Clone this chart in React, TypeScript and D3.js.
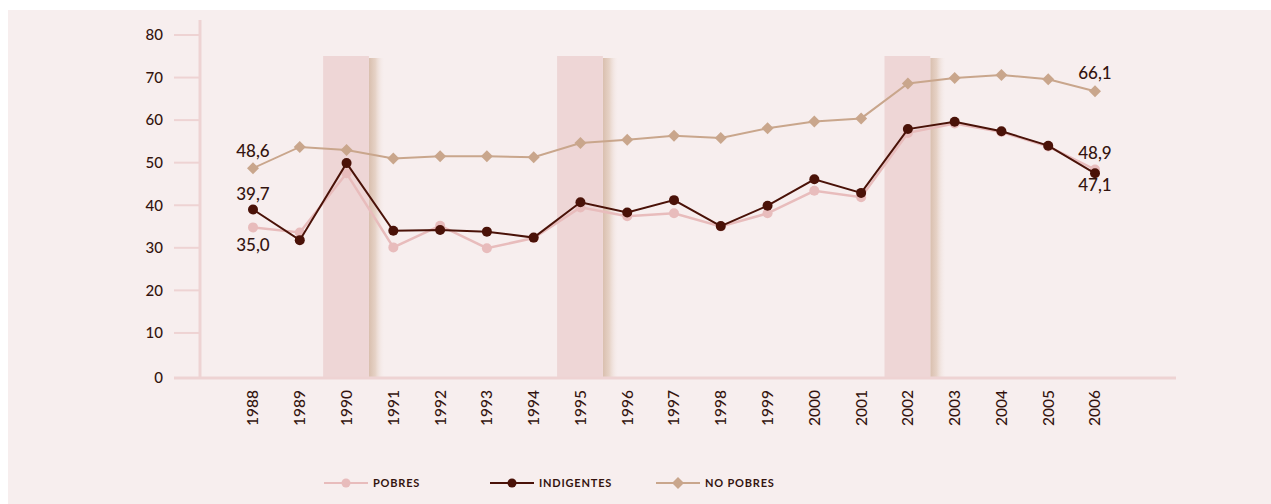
import * as d3 from "d3";

// Serie 1988-2006 (porcentajes)
const years = [1988, 1989, 1990, 1991, 1992, 1993, 1994, 1995, 1996, 1997, 1998, 1999, 2000, 2001, 2002, 2003, 2004, 2005, 2006];
const pobres = [34.8, 33.6, 47.5, 30.1, 35.2, 29.9, 32.3, 39.5, 37.4, 38.1, 35.0, 38.1, 43.4, 41.9, 57.0, 59.2, 57.2, 53.8, 48.4];
const indigentes = [39.0, 31.8, 49.9, 34.0, 34.2, 33.8, 32.4, 40.7, 38.3, 41.2, 35.1, 39.9, 46.1, 42.9, 57.9, 59.6, 57.4, 54.0, 47.5];
const noPobres = [48.7, 53.7, 53.0, 51.0, 51.5, 51.5, 51.3, 54.6, 55.4, 56.3, 55.8, 58.1, 59.7, 60.4, 68.6, 69.9, 70.6, 69.6, 66.8];
const bandYears = [1990, 1995, 2002];
const yTicks = [0, 10, 20, 30, 40, 50, 60, 70, 80];

const legendItems = [
  { label: "POBRES", color: "#e8bcbc", shape: "circle" },
  { label: "INDIGENTES", color: "#4a1208", shape: "circle" },
  { label: "NO POBRES", color: "#c9a68c", shape: "diamond" },
];

const W = 1271;
const H = 504;
const textColor = "#34140f";
const axisColor = "#eed3d3";
const bg = "#f7eeee";

export default function App() {
  const x = d3.scaleLinear().domain([1988, 2006]).range([253, 1095]);
  const y = d3.scaleLinear().domain([0, 80]).range([375.5, 35]);
  const step = x(1989) - x(1988);

  const line = d3
    .line<number>()
    .x((_, i) => x(years[i]))
    .y((d) => y(d));

  const diamond = (cx: number, cy: number, r: number) =>
    `M${cx},${cy - r}L${cx + r},${cy}L${cx},${cy + r}L${cx - r},${cy}Z`;

  const font = "Lato, 'DejaVu Sans', sans-serif";

  return (
    <svg
      width={W}
      height={H}
      style={{ position: "absolute", left: 0, top: 0, display: "block" }}
      fontFamily={font}
    >
      <defs>
        <linearGradient id="shadow" x1="0" x2="1" y1="0" y2="0">
          <stop offset="0%" stopColor="#d9bfae" />
          <stop offset="40%" stopColor="#e6d2c6" />
          <stop offset="100%" stopColor={bg} stopOpacity={0} />
        </linearGradient>
      </defs>
      <rect x={0} y={0} width={W} height={H} fill="#ffffff" />
      <rect x={8} y={10} width={W - 8} height={H - 10} fill={bg} />

      {/* bandas */}
      {bandYears.map((b) => (
        <g key={b}>
          <rect
            x={x(b) + step / 2 - 1}
            y={58}
            width={16}
            height={378 - 58}
            fill="url(#shadow)"
          />
          <rect
            x={x(b) - step / 2}
            y={56}
            width={step - 1}
            height={378 - 56}
            fill="#eed6d6"
          />
        </g>
      ))}

      {/* eje y */}
      <line x1={200} x2={200} y1={20} y2={379} stroke={axisColor} strokeWidth={3} />
      {yTicks.map((t) => (
        <g key={t}>
          <line
            x1={174}
            x2={200}
            y1={t === 0 ? 378 : y(t)}
            y2={t === 0 ? 378 : y(t)}
            stroke={axisColor}
            strokeWidth={2}
          />
          <text
            x={163}
            y={t === 0 ? 378 : y(t)}
            dy="0.35em"
            textAnchor="end"
            fontSize={15}
            fontWeight={500}
            fill={textColor}
          >
            {t}
          </text>
        </g>
      ))}

      {/* eje x */}
      <line x1={174} x2={1176} y1={378} y2={378} stroke={axisColor} strokeWidth={3} />
      {years.map((yr) => (
        <text
          key={yr}
          transform={`translate(${x(yr)},390) rotate(-90)`}
          textAnchor="end"
          dy="0.35em"
          fontSize={15.5}
          fontWeight={500}
          fill={textColor}
        >
          {yr}
        </text>
      ))}

      {/* series */}
      <path d={line(noPobres) ?? ""} fill="none" stroke="#c9a68c" strokeWidth={2} />
      {noPobres.map((v, i) => (
        <path key={i} d={diamond(x(years[i]), y(v), 6)} fill="#c9a68c" />
      ))}

      <path d={line(pobres) ?? ""} fill="none" stroke="#e8bcbc" strokeWidth={2.5} />
      {pobres.map((v, i) => (
        <circle key={i} cx={x(years[i])} cy={y(v)} r={5} fill="#e8bcbc" />
      ))}

      <path d={line(indigentes) ?? ""} fill="none" stroke="#4a1208" strokeWidth={2} />
      {indigentes.map((v, i) => (
        <circle key={i} cx={x(years[i])} cy={y(v)} r={5} fill="#4a1208" />
      ))}

      {/* etiquetas de valores */}
      <g fontSize={17} fill={textColor} textAnchor="middle" fontWeight={500}>
        <text x={x(1988)} y={157}>48,6</text>
        <text x={x(1988)} y={200}>39,7</text>
        <text x={x(1988)} y={251}>35,0</text>
        <text x={x(2006)} y={79}>66,1</text>
        <text x={x(2006)} y={159}>48,9</text>
        <text x={x(2006)} y={191}>47,1</text>
      </g>

      {/* leyenda */}
      {legendItems.map((it, i) => {
        const lx = 324 + i * 166;
        const cy = 483;
        return (
          <g key={it.label}>
            <line x1={lx} x2={lx + 44} y1={cy} y2={cy} stroke={it.color} strokeWidth={2} />
            {it.shape === "circle" ? (
              <circle cx={lx + 22} cy={cy} r={4.5} fill={it.color} />
            ) : (
              <path d={diamond(lx + 22, cy, 6)} fill={it.color} />
            )}
            <text
              x={lx + 49}
              y={cy}
              dy="0.35em"
              fontSize={11}
              fontWeight="bold"
              letterSpacing={0.8}
              fill={textColor}
            >
              {it.label}
            </text>
          </g>
        );
      })}
    </svg>
  );
}
